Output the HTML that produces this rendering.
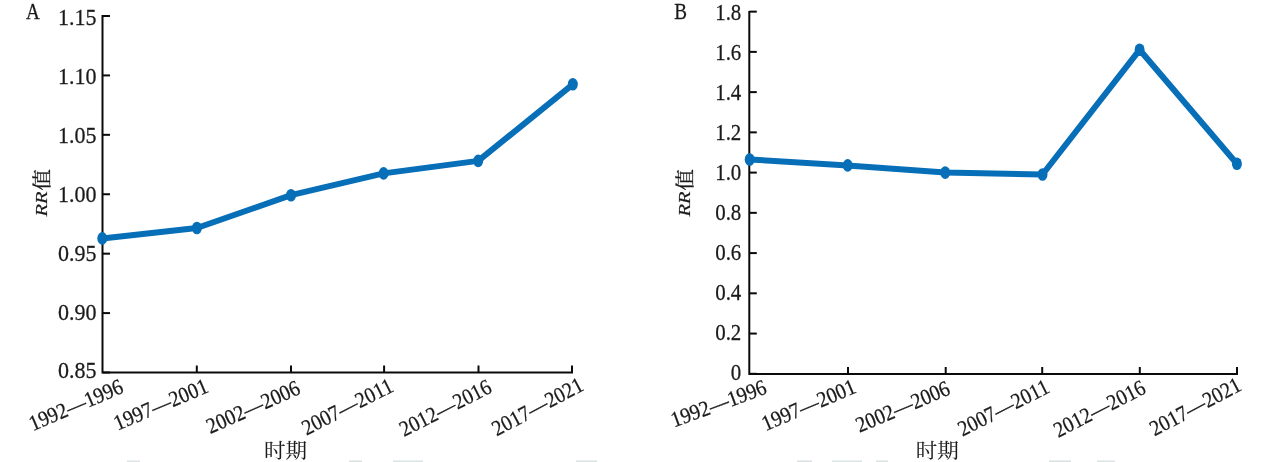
<!DOCTYPE html>
<html><head><meta charset="utf-8"><style>
html,body{margin:0;padding:0;background:#fff;width:1269px;height:462px;overflow:hidden}
svg{display:block;will-change:transform}
text{font-family:"Liberation Serif","Noto Serif CJK SC",serif;fill:#1a1a1a;stroke:#1a1a1a;stroke-width:0.25px}
</style></head><body>
<svg width="1269" height="462" viewBox="0 0 1269 462">
<path d="M102.5 15V372.5H573" fill="none" stroke="#0a0a0a" stroke-width="2"/>
<path d="M102.5 16.00h7.5" stroke="#0a0a0a" stroke-width="2"/>
<path d="M102.5 75.42h7.5" stroke="#0a0a0a" stroke-width="2"/>
<path d="M102.5 134.83h7.5" stroke="#0a0a0a" stroke-width="2"/>
<path d="M102.5 194.25h7.5" stroke="#0a0a0a" stroke-width="2"/>
<path d="M102.5 253.67h7.5" stroke="#0a0a0a" stroke-width="2"/>
<path d="M102.5 313.09h7.5" stroke="#0a0a0a" stroke-width="2"/>
<path d="M102.5 372.50h7.5" stroke="#0a0a0a" stroke-width="2"/>
<text text-anchor="end" font-size="22" transform="translate(96.4 25.02) scale(1 1.06)">1.15</text>
<text text-anchor="end" font-size="22" transform="translate(96.4 83.92) scale(1 1.06)">1.10</text>
<text text-anchor="end" font-size="22" transform="translate(96.4 142.82) scale(1 1.06)">1.05</text>
<text text-anchor="end" font-size="22" transform="translate(96.4 201.72) scale(1 1.06)">1.00</text>
<text text-anchor="end" font-size="22" transform="translate(96.4 260.62) scale(1 1.06)">0.95</text>
<text text-anchor="end" font-size="22" transform="translate(96.4 319.52) scale(1 1.06)">0.90</text>
<text text-anchor="end" font-size="22" transform="translate(96.4 378.42) scale(1 1.06)">0.85</text>
<path d="M196.8 372.5v-7" stroke="#0a0a0a" stroke-width="2"/>
<path d="M291 372.5v-7" stroke="#0a0a0a" stroke-width="2"/>
<path d="M384.1 372.5v-7" stroke="#0a0a0a" stroke-width="2"/>
<path d="M478.5 372.5v-7" stroke="#0a0a0a" stroke-width="2"/>
<path d="M572 372.5v-7" stroke="#0a0a0a" stroke-width="2"/>
<polyline points="102.3,238.4 196.9,228 291,195.2 383.6,173.4 478.2,160.9 572.8,84.3" fill="none" stroke="#076eb8" stroke-width="6" stroke-linejoin="round"/>
<ellipse cx="102.3" cy="238.4" rx="5" ry="6.3" fill="#076eb8"/>
<ellipse cx="196.9" cy="228" rx="5" ry="6.3" fill="#076eb8"/>
<ellipse cx="291" cy="195.2" rx="5" ry="6.3" fill="#076eb8"/>
<ellipse cx="383.6" cy="173.4" rx="5" ry="6.3" fill="#076eb8"/>
<ellipse cx="478.2" cy="160.9" rx="5" ry="6.3" fill="#076eb8"/>
<ellipse cx="572.8" cy="84.3" rx="5" ry="6.3" fill="#076eb8"/>
<text text-anchor="end" font-size="20" transform="translate(124.7 392.2) rotate(-23) scale(1 1.1)">1992—1996</text>
<text text-anchor="end" font-size="20" transform="translate(209.6 391.7) rotate(-23) scale(1 1.1)">1997—2001</text>
<text text-anchor="end" font-size="20" transform="translate(301.6 393.3) rotate(-24) scale(1 1.1)">2002—2006</text>
<text text-anchor="end" font-size="20" transform="translate(394.8 390.6) rotate(-27) scale(1 1.1)">2007—2011</text>
<text text-anchor="end" font-size="20" transform="translate(493.1 391.7) rotate(-27) scale(1 1.1)">2012—2016</text>
<text text-anchor="end" font-size="20" transform="translate(585.0 389.6) rotate(-28) scale(1 1.1)">2017—2021</text>
<text text-anchor="start" font-size="22" transform="translate(26 19.3) scale(0.87 1.05)">A</text>
<text font-size="22" font-style="italic" transform="translate(46.5 216.5) rotate(-90) scale(0.93 0.74)">RR</text>
<text font-size="22" transform="translate(48.5 190.5) rotate(-90) scale(0.98 0.89)">值</text>
<text font-size="22" style="stroke-width:0.1px" transform="translate(264 457.6) scale(0.98 0.94)">时期</text>
<path d="M749.3 11V374H1238" fill="none" stroke="#0a0a0a" stroke-width="2"/>
<path d="M749.3 373.80h7.5" stroke="#0a0a0a" stroke-width="2"/>
<path d="M749.3 333.56h7.5" stroke="#0a0a0a" stroke-width="2"/>
<path d="M749.3 293.32h7.5" stroke="#0a0a0a" stroke-width="2"/>
<path d="M749.3 253.08h7.5" stroke="#0a0a0a" stroke-width="2"/>
<path d="M749.3 212.84h7.5" stroke="#0a0a0a" stroke-width="2"/>
<path d="M749.3 172.60h7.5" stroke="#0a0a0a" stroke-width="2"/>
<path d="M749.3 132.36h7.5" stroke="#0a0a0a" stroke-width="2"/>
<path d="M749.3 92.12h7.5" stroke="#0a0a0a" stroke-width="2"/>
<path d="M749.3 51.88h7.5" stroke="#0a0a0a" stroke-width="2"/>
<path d="M749.3 11.64h7.5" stroke="#0a0a0a" stroke-width="2"/>
<text text-anchor="end" font-size="22" transform="translate(741.3 380.22) scale(0.95 1.06)">0</text>
<text text-anchor="end" font-size="22" transform="translate(741.3 340.24) scale(0.95 1.06)">0.2</text>
<text text-anchor="end" font-size="22" transform="translate(741.3 300.26) scale(0.95 1.06)">0.4</text>
<text text-anchor="end" font-size="22" transform="translate(741.3 260.28) scale(0.95 1.06)">0.6</text>
<text text-anchor="end" font-size="22" transform="translate(741.3 220.3) scale(0.95 1.06)">0.8</text>
<text text-anchor="end" font-size="22" transform="translate(741.3 180.32) scale(0.95 1.06)">1.0</text>
<text text-anchor="end" font-size="22" transform="translate(741.3 140.34) scale(0.95 1.06)">1.2</text>
<text text-anchor="end" font-size="22" transform="translate(741.3 100.36) scale(0.95 1.06)">1.4</text>
<text text-anchor="end" font-size="22" transform="translate(741.3 60.38) scale(0.95 1.06)">1.6</text>
<text text-anchor="end" font-size="22" transform="translate(741.3 20.4) scale(0.95 1.06)">1.8</text>
<path d="M848 374v-7" stroke="#0a0a0a" stroke-width="2"/>
<path d="M945.7 374v-7" stroke="#0a0a0a" stroke-width="2"/>
<path d="M1042.2 374v-7" stroke="#0a0a0a" stroke-width="2"/>
<path d="M1139.8 374v-7" stroke="#0a0a0a" stroke-width="2"/>
<path d="M1237 374v-7" stroke="#0a0a0a" stroke-width="2"/>
<polyline points="749.7,159.5 847.7,165.4 945.2,172.6 1042.5,174.5 1139.6,49.8 1236.9,163.7" fill="none" stroke="#076eb8" stroke-width="6" stroke-linejoin="round"/>
<ellipse cx="749.7" cy="159.5" rx="5" ry="6.3" fill="#076eb8"/>
<ellipse cx="847.7" cy="165.4" rx="5" ry="6.3" fill="#076eb8"/>
<ellipse cx="945.2" cy="172.6" rx="5" ry="6.3" fill="#076eb8"/>
<ellipse cx="1042.5" cy="174.5" rx="5" ry="6.3" fill="#076eb8"/>
<ellipse cx="1139.6" cy="49.8" rx="5" ry="6.3" fill="#076eb8"/>
<ellipse cx="1236.9" cy="163.7" rx="5" ry="6.3" fill="#076eb8"/>
<text text-anchor="end" font-size="20" transform="translate(768.0 393.2) rotate(-20) scale(1 1.1)">1992—1996</text>
<text text-anchor="end" font-size="20" transform="translate(857.5 392.2) rotate(-23) scale(1 1.1)">1997—2001</text>
<text text-anchor="end" font-size="20" transform="translate(951.5 393.8) rotate(-23) scale(1 1.1)">2002—2006</text>
<text text-anchor="end" font-size="20" transform="translate(1050.8 391.8) rotate(-27) scale(1 1.1)">2007—2011</text>
<text text-anchor="end" font-size="20" transform="translate(1147.2 392.5) rotate(-27) scale(1 1.1)">2012—2016</text>
<text text-anchor="end" font-size="20" transform="translate(1242.8 389.6) rotate(-28) scale(1 1.1)">2017—2021</text>
<text text-anchor="start" font-size="22" transform="translate(674.2 19.3) scale(0.87 1.05)">B</text>
<text font-size="22" font-style="italic" transform="translate(689.5 216.5) rotate(-90) scale(0.93 0.74)">RR</text>
<text font-size="22" transform="translate(691.5 190.5) rotate(-90) scale(0.98 0.89)">值</text>
<text font-size="22" style="stroke-width:0.1px" transform="translate(915.8 457.6) scale(0.98 0.94)">时期</text>
<rect x="127" y="460.5" width="13" height="1.5" fill="#dde3e3"/>
<rect x="349" y="460.5" width="13" height="1.5" fill="#dae0e0"/>
<rect x="393" y="460.5" width="30" height="1.5" fill="#dbe4e5"/>
<rect x="576" y="460.5" width="21" height="1.5" fill="#d9e1e1"/>
<rect x="797" y="460.5" width="15" height="1.5" fill="#dae0e0"/>
<rect x="832" y="460.5" width="30" height="1.5" fill="#dbe4e5"/>
<rect x="876" y="460.5" width="12" height="1.5" fill="#dbe1e1"/>
<rect x="1049" y="460.5" width="22" height="1.5" fill="#dae0e0"/>
<rect x="1097" y="460.5" width="18" height="1.5" fill="#dde3e3"/>
</svg>
</body></html>
